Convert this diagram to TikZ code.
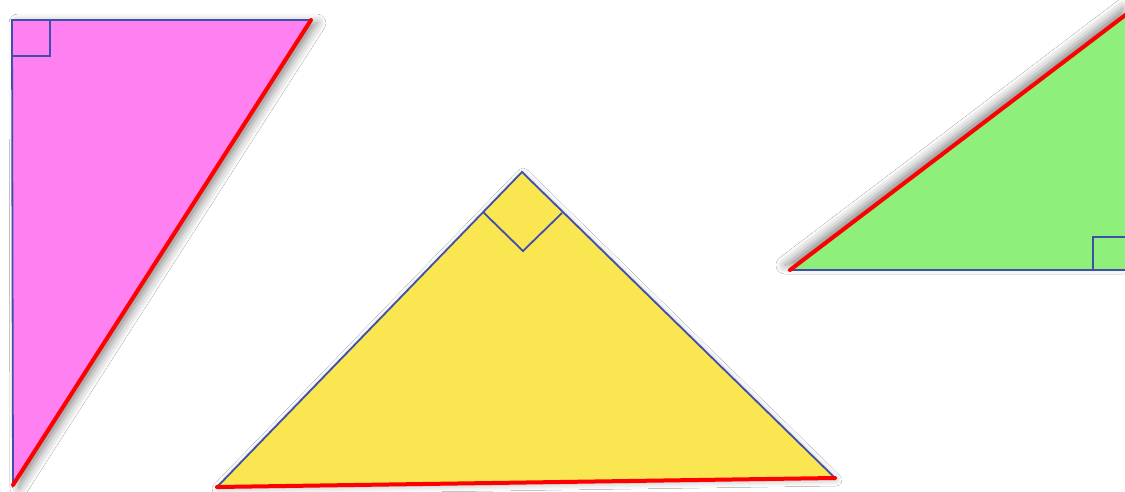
\documentclass[tikz,border=0pt]{standalone}
\usetikzlibrary{shadows.blur}
\definecolor{pinkfill}{RGB}{255,128,240}
\definecolor{yellowfill}{RGB}{250,230,80}
\definecolor{greenfill}{RGB}{142,240,122}
\definecolor{edgeblue}{RGB}{64,80,170}
\definecolor{hypred}{RGB}{255,0,0}
\tikzset{
  tri/.style={draw=edgeblue, line width=1.8pt, line join=miter},
  hyp/.style={draw=hypred, line width=4pt, line cap=round},
  rightmark/.style={draw=edgeblue, line width=1.8pt}
}
\begin{document}
\begin{tikzpicture}[x=1pt,y=-1pt]
\path[use as bounding box, fill=white] (0,0) rectangle (1125,492);
\clip (0,0) rectangle (1125,492);
% pink triangle
\coordinate (pA) at (12,20);
\coordinate (pB) at (311,20);
\coordinate (pC) at (13,485);
\path[tri, fill=pinkfill, blur shadow={shadow xshift=6pt, shadow yshift=-3pt, shadow blur radius=9pt, shadow opacity=45}] (pA) -- (pB) -- (pC) -- cycle;
\draw[hyp] (pB) -- (pC);
\draw[rightmark] (12,56) -- (50,56) -- (50,20);
% yellow triangle
\coordinate (yA) at (522,172);
\coordinate (yB) at (217,487);
\coordinate (yC) at (835,478);
\path[tri, fill=yellowfill, blur shadow={shadow xshift=1pt, shadow yshift=-2pt, shadow blur radius=6pt, shadow opacity=30}] (yA) -- (yB) -- (yC) -- cycle;
\draw[hyp] (yB) -- (yC);
\draw[rightmark] (483,212) -- (523,251) -- (562,213);
% green triangle
\coordinate (gA) at (790,270);
\coordinate (gB) at (1128,270);
\coordinate (gC) at (1128,13);
\path[tri, fill=greenfill, blur shadow={shadow xshift=-5pt, shadow yshift=5pt, shadow blur radius=9pt, shadow opacity=45}] (gA) -- (gB) -- (gC) -- cycle;
\draw[hyp] (gC) -- (gA);
\draw[rightmark] (1093,270) -- (1093,237) -- (1128,237);
\end{tikzpicture}
\end{document}
